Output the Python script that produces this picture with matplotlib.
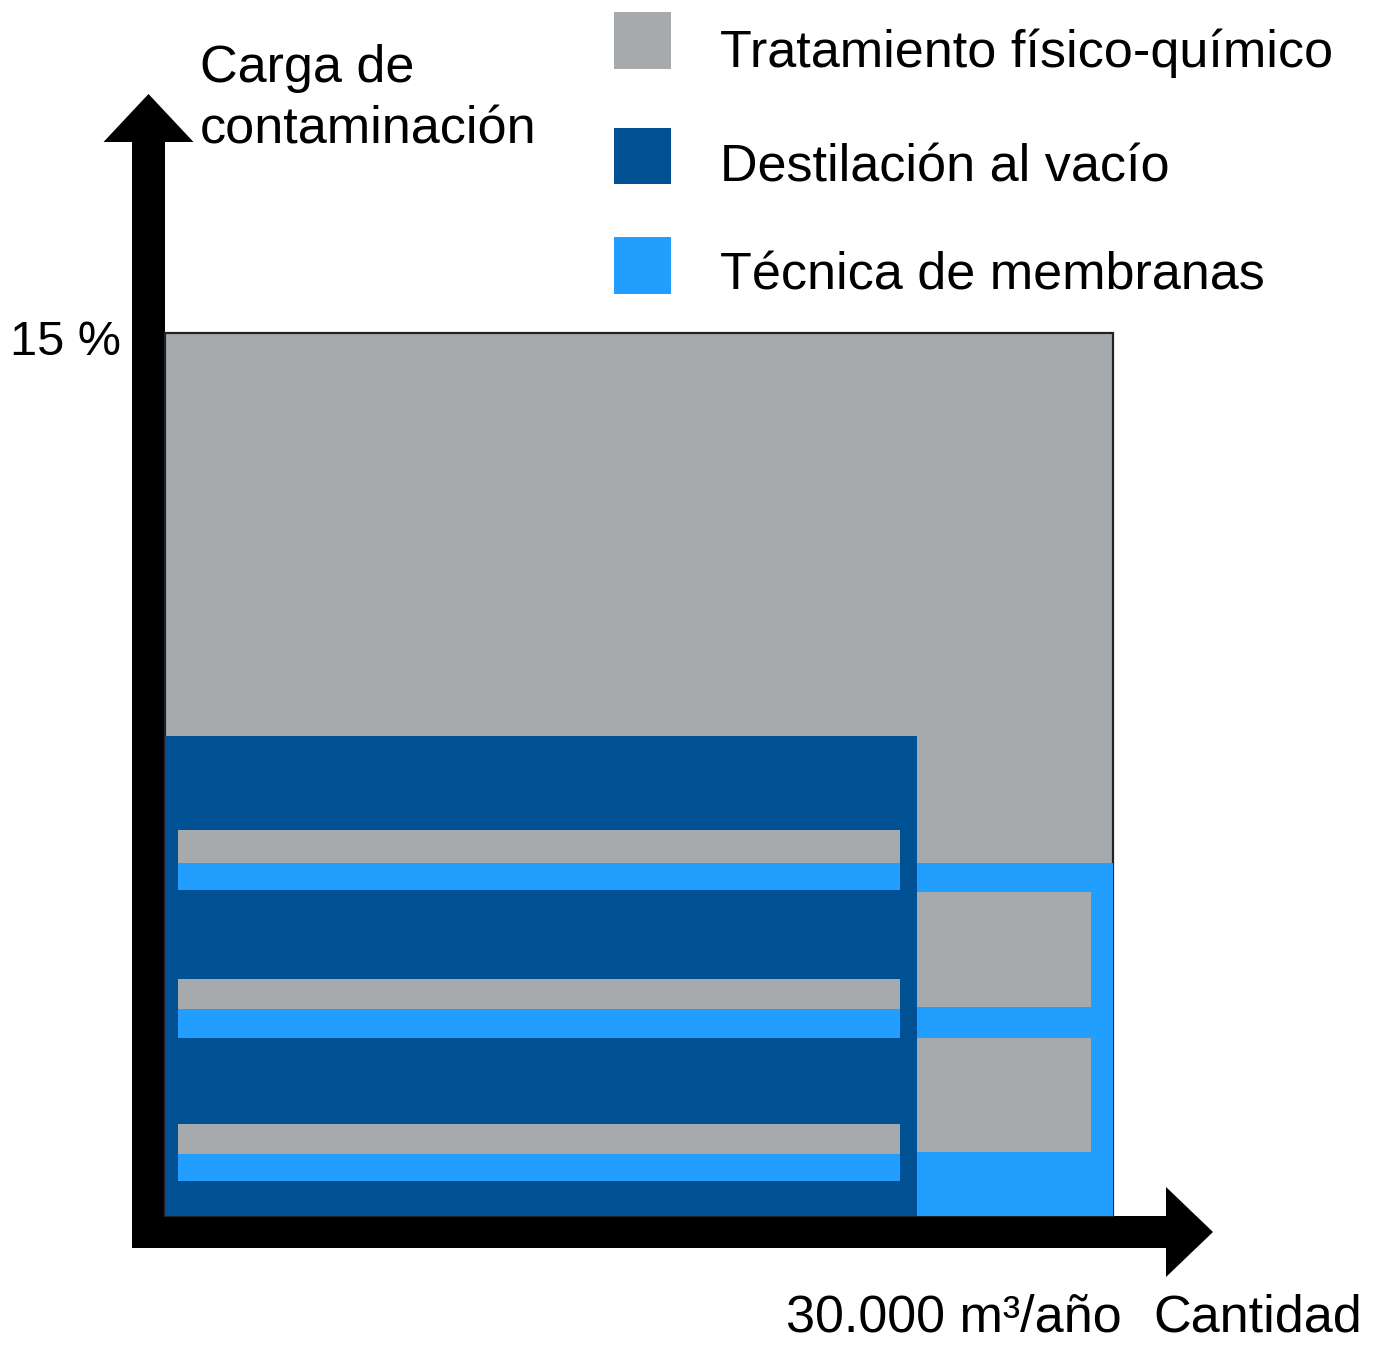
import matplotlib
matplotlib.use("Agg")
import matplotlib.pyplot as plt
from matplotlib.patches import Rectangle, Polygon

# ---------------- data ----------------
x_max = 30000          # m³/año
y_max = 15             # %
categories = ["Tratamiento físico-químico", "Destilación al vacío", "Técnica de membranas"]
colors = ["#A7AAAD", "#005193", "#229EFF"]

# main regions: (x0, x1, y0, y1)
gray_region = (0, 30000, 0, 15)
dist_region = (0, 23800, 0, 8.15)
memb_region = (23800, 30000, 0, 6.0)

# stripes inside the distillation block
stripe_x = (410, 23270)
stripe_gray = [(6.0, 6.55), (3.52, 4.03), (1.05, 1.56)]
stripe_blue = [(5.53, 6.0), (3.02, 3.52), (0.59, 1.05)]

# gray blocks inside the membrane block
memb_gray_x = (23800, 29300)
memb_gray_y = [(3.55, 5.5), (1.08, 3.03)]

y_label_lines = ["Carga de", "contaminación"]
y_tick = "15 %"
x_tick = "30.000 m³/año"
x_label = "Cantidad"

# ---------------- style ----------------
plt.rcParams["font.family"] = ["Liberation Sans", "DejaVu Sans"]

W, H = 1377, 1350
fig = plt.figure(figsize=(W / 100, H / 100), dpi=100)

# overlay in pixel coordinates for arrows and text
ov = fig.add_axes([0, 0, 1, 1])
ov.set_xlim(0, W)
ov.set_ylim(H, 0)
ov.axis("off")

# data axes
L, R, T, B = 165, 1113, 333, 1216
ax = fig.add_axes([L / W, 1 - B / H, (R - L) / W, (B - T) / H])
ax.set_xlim(0, x_max)
ax.set_ylim(0, y_max)
ax.axis("off")

def rect(a, x0, x1, y0, y1, c, **kw):
    a.add_patch(Rectangle((x0, y0), x1 - x0, y1 - y0, facecolor=c, edgecolor="none", **kw))

g = gray_region
ax.add_patch(Rectangle((g[0], g[2]), g[1] - g[0], g[3] - g[2], facecolor=colors[0],
                       edgecolor="#222222", linewidth=1.6, clip_on=False))
rect(ax, *dist_region, colors[1], clip_on=False)
rect(ax, *memb_region, colors[2], clip_on=False)
for (gy0, gy1), (by0, by1) in zip(stripe_gray, stripe_blue):
    rect(ax, stripe_x[0], stripe_x[1], gy0, gy1, colors[0])
    rect(ax, stripe_x[0], stripe_x[1], by0, by1, colors[2])
for (y0, y1) in memb_gray_y:
    rect(ax, memb_gray_x[0], memb_gray_x[1], y0, y1, colors[0])

# arrows (pixel coords)
sh_l, sh_r = 132, 165      # vertical shaft
hs_t, hs_b = 1216, 1248    # horizontal shaft
hw, hl = 45, 48
vx = (sh_l + sh_r) / 2
ov.add_patch(Polygon([(sh_l, hs_b), (sh_l, 142), (vx - hw, 142), (vx, 94),
                      (vx + hw, 142), (sh_r, 142), (sh_r, hs_b)], closed=True,
                     facecolor="black", edgecolor="none", zorder=5))
hy = (hs_t + hs_b) / 2
ov.add_patch(Polygon([(sh_l, hs_t), (1166, hs_t), (1166, hy - hw), (1213, hy),
                      (1166, hy + hw), (1166, hs_b), (sh_l, hs_b)], closed=True,
                     facecolor="black", edgecolor="none", zorder=5))

fs = 37.5
ov.text(200, 82, y_label_lines[0], fontsize=fs, ha="left", va="baseline")
ov.text(200, 143, y_label_lines[1], fontsize=fs, ha="left", va="baseline")
ov.text(121, 355, y_tick, fontsize=35, ha="right", va="baseline")
ov.text(1122, 1331, x_tick, fontsize=fs, ha="right", va="baseline")
ov.text(1362, 1331, x_label, fontsize=fs, ha="right", va="baseline")

# legend
leg_y = [(12, 69), (128, 184), (237, 294)]
leg_base = [67, 181, 289]
for cat, c, (y0, y1), yb in zip(categories, colors, leg_y, leg_base):
    ov.add_patch(Rectangle((614, y0), 57, y1 - y0, facecolor=c, edgecolor="none"))
    ov.text(720, yb, cat, fontsize=fs, ha="left", va="baseline")

fig.savefig("out.png", dpi=100)
